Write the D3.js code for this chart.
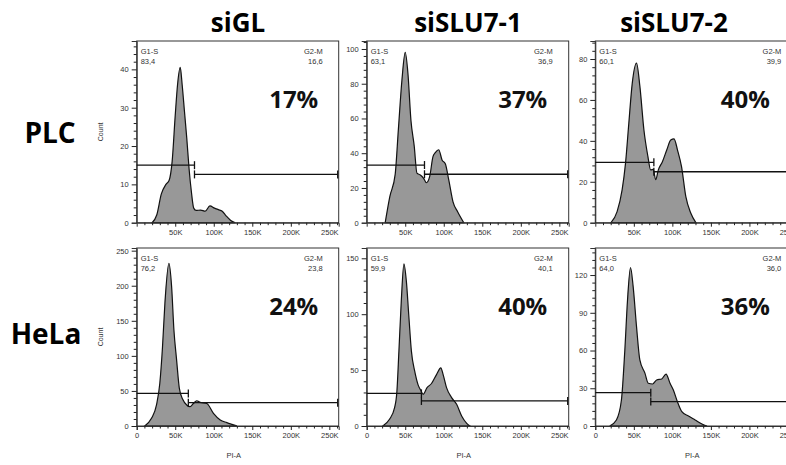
<!DOCTYPE html>
<html>
<head>
<meta charset="utf-8">
<script src="https://cdn.jsdelivr.net/npm/d3@7"></script>
<style>
  body { margin: 0; background: #fff; }
  svg { display: block; }
</style>
</head>
<body>
<svg id="chart" width="786" height="465"></svg>
<script>
const columns = ["siGL", "siSLU7-1", "siSLU7-2"];
const rows = ["PLC", "HeLa"];
const xTicks = [0, 50000, 100000, 150000, 200000, 250000];
const xTickLabels = ["0", "50K", "100K", "150K", "200K", "250K"];

// histograms: [PI-A in K, count]
const plcSiGL = [[20,0],[26,2],[32,7.5],[38,10],[42,11],[46,16],[50,28],[53,36],[56.5,40.5],[59,36],[62,29],[65,22],[68,14],[71,8],[74,3.8],[77,3.2],[83,3.3],[89,3.0],[95,4.4],[101,3.8],[106,3.4],[111,3.0],[116,1.8],[122,0.6],[128,0]];
const plcSlu1 = [[24,0],[30,15],[37,28],[41,53],[45.7,82],[50,98],[53.5,86],[57.4,59],[61.7,44],[65.2,28.5],[69.6,27.5],[73.9,25.5],[77.4,23],[81.7,26.5],[86,38],[89,40.3],[93.4,42],[97.9,36],[102,34],[106.5,24.6],[112,12],[118,6.3],[126,0]];
const plcSlu2 = [[20.4,0],[28.3,5.4],[34.8,16],[39.2,29],[43.5,48.6],[47.9,68],[53.5,78],[57.9,66.5],[63.1,45.3],[68.3,32.3],[71.8,25.8],[75.3,26.1],[78.3,21],[81.8,25.8],[87.1,29.8],[92.7,35.5],[97.9,40.4],[102.2,41],[106.7,35.5],[111.9,27.4],[117.5,12.7],[124,4.6],[130.5,0]];
const helaSiGL = [[10.4,0],[19.2,10.9],[25.7,30],[30,61],[33.5,113],[36.6,175],[41.8,232],[45.3,199],[48.3,137],[51.8,94],[55.3,54],[59.7,38],[64.9,30],[69.2,27.5],[73.5,32],[77.9,36],[82.2,33.7],[91,32],[99.6,18],[108.4,8.6],[117,4.8],[123.6,2.3],[130,0]];
const helaSlu1 = [[20.9,0],[29.6,6],[36.2,16.4],[39.2,31],[41.8,67],[44.9,112],[48.3,145],[51.4,130],[54.8,97],[58,67],[62.3,49],[66.6,37],[70.1,32],[73.1,28.4],[78.3,34.3],[84.1,38],[90.6,46],[96.2,52],[99.2,46],[103.6,34.3],[110.2,25.4],[116.7,19.4],[123.2,9],[129.8,2.4],[134,0]];
const helaSlu2 = [[18.7,0],[27.4,4.8],[33.9,20.7],[38.3,60],[41.8,100],[45.7,126],[49.1,111],[53.5,79],[57.8,52.5],[64.4,42],[68.7,34],[74.4,33.4],[79.6,36.6],[86.2,37.4],[91.8,41.3],[97,34],[101.3,28.6],[106.5,19.4],[112.3,11.4],[120.9,7.9],[129.6,4.8],[138.4,1.6],[144.9,0]];

const histograms = [plcSiGL, plcSlu1, plcSlu2, helaSiGL, helaSlu1, helaSlu2];
const yMax = [47.4, 104.6, 88.8, 253.8, 159.2, 141.5];
const yStep = [10, 20, 20, 50, 50, 30];
const gateSplit = [75, 75, 76, 67, 71, 72];          // K
const gateG1Level = [15, 33.2, 29.5, 46.5, 29.2, 26.5];
const gateG2Level = [12.6, 27.9, 24.9, 33.2, 22.4, 19.4];
const g1Values = ["83,4", "63,1", "60,1", "76,2", "59,9", "64,0"];
const g2Values = ["16,6", "36,9", "39,9", "23,8", "40,1", "36,0"];
const g2mPercent = ["17%", "37%", "40%", "24%", "40%", "36%"];

// layout
const panelLeft = [136.7, 366.7, 595.3];
const panelW = 202;
const rowTop = [41, 248];
const rowBottom = [222.7, 426];
const titleX = [238, 468, 674];
const pctDx = [157, 156, 150];

const svg = d3.select("#chart");
const small = "'Liberation Sans', Arial, sans-serif";
const big = "'Open Sans', sans-serif";

// column titles and row labels
svg.selectAll("text.col").data(columns).enter().append("text")
  .attr("class", "col")
  .attr("x", (d, i) => titleX[i]).attr("y", 32)
  .attr("text-anchor", "middle")
  .style("font-family", big).style("font-weight", 700).style("font-size", "26px")
  .text(d => d);

svg.selectAll("text.row").data(rows).enter().append("text")
  .attr("class", "row")
  .attr("x", (d, i) => i == 0 ? 50 : 46).attr("y", (d, i) => i == 0 ? 143 : 344)
  .attr("text-anchor", "middle")
  .style("font-family", big).style("font-weight", 700).style("font-size", "28px")
  .text(d => d);

histograms.forEach(function (data, i) {
  const r = Math.floor(i / 3), c = i % 3;
  const left = panelLeft[c], top = rowTop[r], bottom = rowBottom[r];

  const x = d3.scaleLinear().domain([0, 262144]).range([left, left + panelW]);
  const y = d3.scaleLinear().domain([0, yMax[i]]).range([bottom, top]);

  const g = svg.append("g");

  // histogram
  const area = d3.area()
    .x(d => x(d[0] * 1000))
    .y0(y(0))
    .y1(d => y(d[1]))
    .curve(d3.curveMonotoneX);
  g.append("path").datum(data)
    .attr("d", area)
    .attr("fill", "#989898")
    .attr("stroke", "#111")
    .attr("stroke-width", 1.2);

  // frame
  g.append("rect")
    .attr("x", left).attr("y", top)
    .attr("width", panelW).attr("height", bottom - top)
    .attr("fill", "none").attr("stroke", "#333").attr("stroke-width", 1);

  // y axis
  const majors = d3.range(0, yMax[i], yStep[i]);
  const minors = d3.range(0, yMax[i], yStep[i] / 5).filter(v => majors.indexOf(v) < 0);
  const yAxis = g.append("g").attr("transform", `translate(${left},0)`)
    .call(d3.axisLeft(y).tickValues(majors).tickSize(5).tickPadding(3).tickFormat(d3.format("d")));
  g.append("g").attr("transform", `translate(${left},0)`)
    .call(d3.axisLeft(y).tickValues(minors).tickSize(3).tickFormat(""))
    .call(a => a.select(".domain").remove());

  // x axis
  const xMinor = d3.range(0, 262144, 10000).filter(v => v % 50000 != 0);
  const xAxis = g.append("g").attr("transform", `translate(0,${bottom})`)
    .call(d3.axisBottom(x).tickValues(r == 0 ? xTicks.slice(1) : xTicks).tickSize(4).tickPadding(3)
      .tickFormat(d => xTickLabels[xTicks.indexOf(d)]));
  g.append("g").attr("transform", `translate(0,${bottom})`)
    .call(d3.axisBottom(x).tickValues(xMinor).tickSize(2.5).tickFormat(""))
    .call(a => a.select(".domain").remove());

  g.selectAll(".tick line").attr("stroke", "#222");
  g.selectAll(".domain").attr("stroke", "#333");
  g.selectAll(".tick text")
    .style("font-family", small).style("font-size", "7.5px").attr("fill", "#333");

  // axis titles
  g.append("text")
    .attr("transform", `translate(${103},${(top + bottom) / 2}) rotate(-90)`)
    .attr("text-anchor", "middle")
    .style("font-family", small).style("font-size", "7px").attr("fill", "#333")
    .text(c == 0 ? "Count" : "");
  if (r == 1) {
    g.append("text")
      .attr("x", left + panelW / 2 - 4).attr("y", 458)
      .attr("text-anchor", "middle")
      .style("font-family", small).style("font-size", "7.5px").attr("fill", "#333")
      .text("PI-A");
  }

  // gates
  const split = gateSplit[i] * 1000;
  const y1 = y(gateG1Level[i]), y2 = y(gateG2Level[i]);
  const gate = g.append("g").attr("stroke", "#111").attr("stroke-width", 1.3).attr("fill", "none");
  gate.append("line").attr("x1", x(0)).attr("x2", x(split)).attr("y1", y1).attr("y2", y1);
  gate.append("line").attr("x1", x(split)).attr("x2", x(split)).attr("y1", y1 - 4).attr("y2", y1 + 4);
  gate.append("line").attr("x1", x(split)).attr("x2", x(262144) - 1).attr("y1", y2).attr("y2", y2);
  gate.append("line").attr("x1", x(split)).attr("x2", x(split)).attr("y1", y2 - 4).attr("y2", y2 + 4);
  gate.append("line").attr("x1", x(262144) - 1).attr("x2", x(262144) - 1).attr("y1", y2 - 4).attr("y2", y2 + 4);

  // gate labels
  const lab = g.append("g").style("font-family", small).style("font-size", "7.5px").attr("fill", "#333");
  lab.append("text").attr("x", left + 4).attr("y", top + 13).text("G1-S");
  lab.append("text").attr("x", left + 4).attr("y", top + 23).text(g1Values[i]);
  lab.append("text").attr("x", left + panelW - 16).attr("y", top + 13).attr("text-anchor", "end").text("G2-M");
  lab.append("text").attr("x", left + panelW - 16).attr("y", top + 23).attr("text-anchor", "end").text(g2Values[i]);

  // G2-M share
  g.append("text")
    .attr("x", left + pctDx[c]).attr("y", top + 67)
    .attr("text-anchor", "middle")
    .style("font-family", big).style("font-weight", 700).style("font-size", "24px")
    .attr("fill", "#111")
    .text(g2mPercent[i]);
});
</script>
</body>
</html>
